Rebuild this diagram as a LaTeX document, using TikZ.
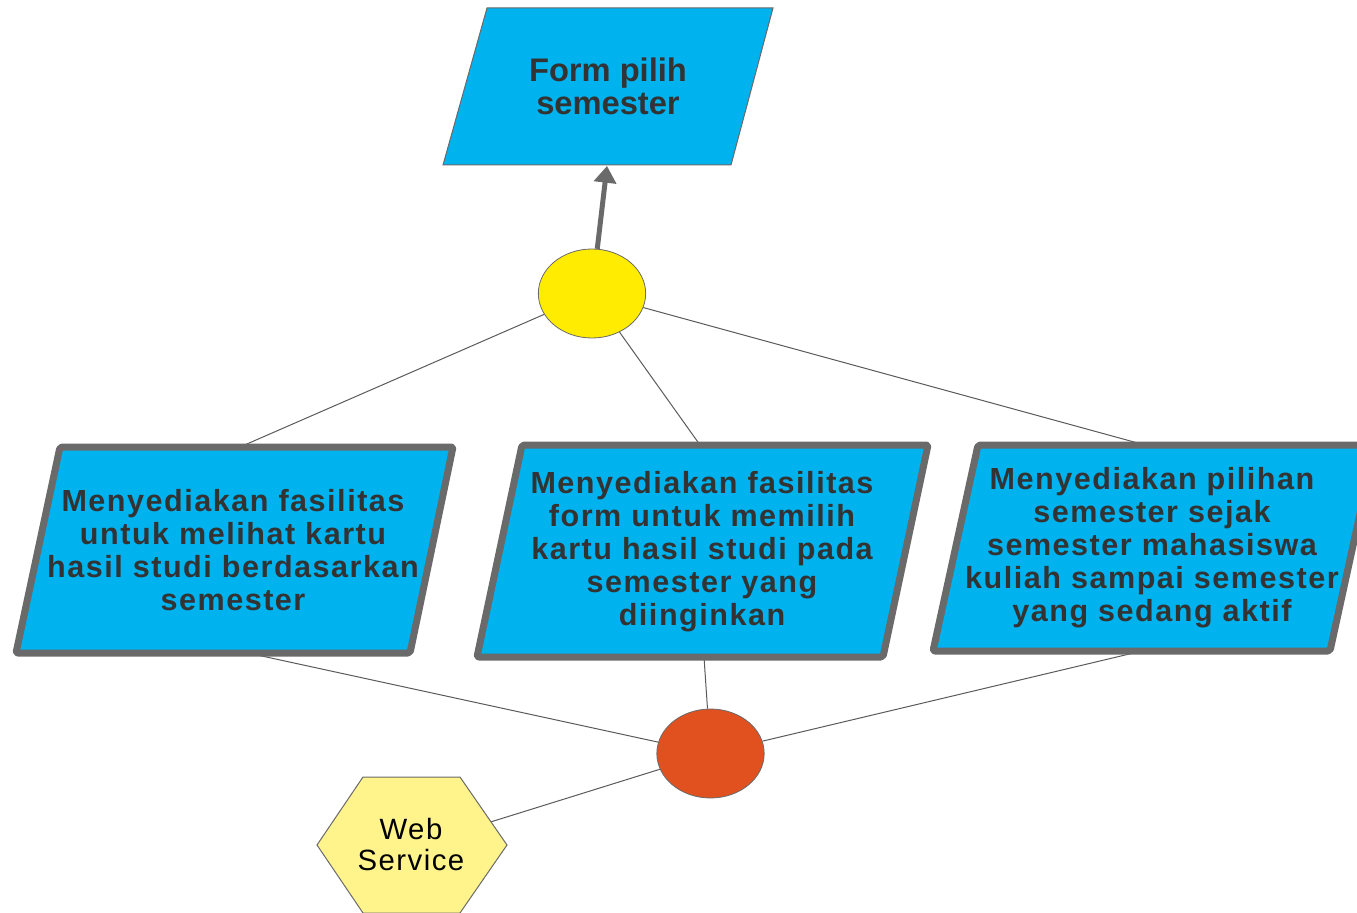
\documentclass[tikz,border=0pt]{standalone}
\usepackage{fontspec}
\setmainfont{Liberation Sans}
\newfontfamily\boxfont[LetterSpace=5]{Liberation Sans}
\newfontfamily\formfont{Liberation Sans}
\usetikzlibrary{arrows.meta,shapes.geometric}
\definecolor{procblue}{HTML}{00B2EE}
\definecolor{edgegray}{HTML}{6A6A6A}
\definecolor{txtgray}{HTML}{333333}
\definecolor{linkgray}{HTML}{5A5A5A}
\definecolor{joinyellow}{HTML}{FFEC00}
\definecolor{joinred}{HTML}{E0511F}
\definecolor{hexyellow}{HTML}{FFF38C}
\begin{document}
\begin{tikzpicture}[x=0.75pt,y=-0.75pt,
  procbox/.style={draw=edgegray,fill=procblue,line width=5.25pt,rounded corners=1.5pt,line join=round},
  formbox/.style={draw=edgegray,fill=procblue,line width=0.75pt},
  boxtext/.style={align=center,inner sep=0pt,text=txtgray,
    font=\boxfont\bfseries\fontsize{22.9pt}{24.75pt}\selectfont},
  formtext/.style={align=center,inner sep=0pt,text=txtgray,
    font=\formfont\bfseries\fontsize{24.5pt}{24.75pt}\selectfont},
  junction/.style={ellipse,draw=edgegray,line width=0.6pt,inner sep=0pt,
    minimum width=80.5pt,minimum height=66.75pt},
  link/.style={draw=linkgray,line width=0.75pt},
  flow/.style={draw=edgegray,line width=3.75pt,-{Triangle[width=16.5pt,length=12.5pt]}},
  hexshape/.style={draw=edgegray,fill=hexyellow,line width=0.75pt},
  hextext/.style={align=center,inner sep=0pt,text=black,
    font=\boxfont\fontsize{22pt}{23.25pt}\selectfont}]
\useasboundingbox (0,0) rectangle (1357,913);
\clip (0,0) rectangle (1357,913);

% junction points
\node[junction,fill=joinyellow] (Y) at (592,293.5) {};
\node[junction,fill=joinred] (R) at (710.5,753.5) {};

% attachment points on the boxes
\coordinate (ft) at (607,166);
\coordinate (lt) at (240,447);
\coordinate (mt) at (700,445);
\coordinate (rt) at (1145,445);
\coordinate (lb) at (248,653);
\coordinate (mb) at (704,657);
\coordinate (rb) at (1142,651);
\coordinate (hx) at (490.5,822);

% connectors
\draw[link] (Y) -- (lt);
\draw[link] (Y) -- (mt);
\draw[link] (Y) -- (rt);
\draw[link] (R) -- (lb);
\draw[link] (R) -- (mb);
\draw[link] (R) -- (rb);
\draw[link] (R) -- (hx);
\draw[flow] (Y) -- (ft);

% output form
\draw[formbox] (487,8) -- (773,8) -- (731,165) -- (443,165) -- cycle;
\node[formtext] (F) at (608,86.5) {Form pilih\\semester};

% process boxes
\draw[procbox] (60,447) -- (453,447) -- (410,653) -- (16,653) -- cycle;
\node[boxtext] (L) at (233,550) {Menyediakan fasilitas\\untuk melihat kartu\\hasil studi berdasarkan\\semester};

\draw[procbox] (522,445) -- (928,445) -- (883,657) -- (477,657) -- cycle;
\node[boxtext] (M) at (702,552) {Menyediakan fasilitas\\form untuk memilih\\kartu hasil studi pada\\semester yang\\diinginkan};

\draw[procbox] (978,445) -- (1375,445) -- (1330,651) -- (933,651) -- cycle;
\node[boxtext] (N) at (1152,548) {Menyediakan pilihan\\semester sejak\\semester mahasiswa\\kuliah sampai semester\\yang sedang aktif};

% web service
\draw[hexshape] (363,777) -- (460,777) -- (507,845) -- (460,913) -- (363,913) -- (317,845) -- cycle;
\node[hextext] (W) at (411,844.5) {Web\\Service};
\end{tikzpicture}
\end{document}
